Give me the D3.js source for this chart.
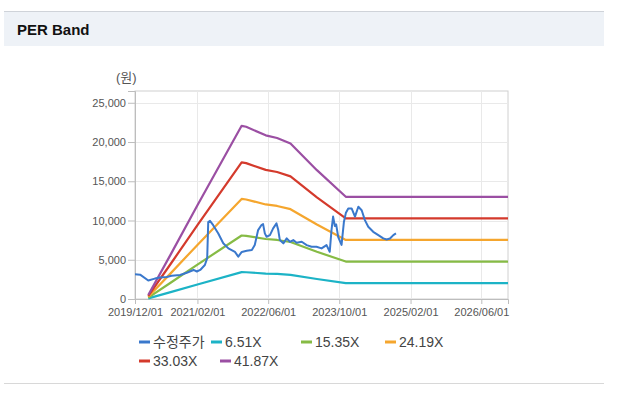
<!DOCTYPE html>
<html><head><meta charset="utf-8">
<script src="https://cdn.jsdelivr.net/npm/d3@7/dist/d3.min.js"></script>
<style>
html,body{margin:0;padding:0;background:#fff;}
svg{display:block;}
text{font-family:"Liberation Sans",Arial,"Noto Sans CJK KR",sans-serif;}
</style></head>
<body>
<svg id="chart" width="621" height="393"></svg>
<script>
// ---- data ----
const title = "PER Band";
const unitLabel = "(원)";
const priceName = "수정주가";
const priceDates = ["2019-12-01","2020-01-05","2020-03-01","2020-04-15","2020-05-20","2020-07-05","2020-08-08","2020-10-05","2020-11-20","2021-01-05","2021-01-28","2021-02-20","2021-03-24","2021-04-09","2021-04-16","2021-04-28","2021-05-20","2021-06-24","2021-07-28","2021-09-01","2021-10-16","2021-11-08","2021-12-02","2022-01-05","2022-02-09","2022-03-01","2022-03-24","2022-04-16","2022-04-27","2022-05-09","2022-05-21","2022-06-13","2022-07-05","2022-07-28","2022-08-09","2022-08-20","2022-09-13","2022-10-06","2022-10-28","2022-11-20","2022-12-13","2023-01-17","2023-02-20","2023-03-25","2023-04-28","2023-06-02","2023-07-06","2023-07-28","2023-08-09","2023-08-20","2023-09-01","2023-09-10","2023-09-24","2023-10-17","2023-11-02","2023-11-16","2023-12-02","2023-12-25","2024-01-17","2024-02-09","2024-03-03","2024-03-25","2024-04-17","2024-05-21","2024-06-25","2024-07-29","2024-08-21","2024-09-13","2024-10-06","2024-10-24"];
const priceValues = [3150,3100,2350,2600,2750,2800,2950,3050,3350,3700,3500,3700,4330,5200,9800,9950,9400,8350,7100,6450,6000,5400,6000,6150,6250,6870,8780,9420,9540,8360,7930,8140,9000,9630,8780,7510,7090,7720,7290,7510,7160,7290,6870,6650,6650,6450,6870,6020,8780,10500,9300,9500,7900,6900,9800,11000,11540,11540,10500,11750,11300,10050,9200,8560,8140,7720,7590,7700,8140,8350];
const epsDates = ["2020-03-01","2020-08-01","2021-02-01","2021-12-01","2022-01-01","2022-05-15","2022-08-01","2022-11-01","2023-05-01","2023-11-15","2026-12-01"];
const epsValues = [12,135,285,527,524,498,490,473,392,311,311];
const perMultiples = [6.51,15.35,24.19,33.03,41.87];
const perLabels = ["6.51X","15.35X","24.19X","33.03X","41.87X"];
const yTicks = [0,5000,10000,15000,20000,25000];
const xTickDates = ["2019-12-01","2021-02-01","2022-06-01","2023-10-01","2025-02-01","2026-06-01"];
const xDomain = ["2019-12-01","2026-12-01"];

// ---- styles ----
const priceColor = "#3a78cc";
const bandColors = ["#1cb3c6","#86bb45","#f5a62e","#d43a2c","#9b4fa3"];

const parse = d3.timeParse("%Y-%m-%d");
const fmtDate = d3.timeFormat("%Y/%m/%d");
const svg = d3.select("#chart");

// header
svg.append("rect").attr("x",4).attr("y",11).attr("width",600).attr("height",35).attr("fill","#eef2f7");
svg.append("line").attr("x1",4).attr("x2",604).attr("y1",11.5).attr("y2",11.5).attr("stroke","#cfd3d9");
svg.append("text").attr("x",17).attr("y",35).attr("font-size",15).attr("font-weight","bold")
  .attr("fill","#111").text(title);
svg.append("line").attr("x1",4).attr("x2",604).attr("y1",383.5).attr("y2",383.5).attr("stroke","#d8d8d8");

// scales
const pLeft=135, pRight=508, pTop=91, pBottom=299;
const x = d3.scaleTime().domain(xDomain.map(parse)).range([pLeft,pRight]);
const y = d3.scaleLinear().domain([0,26500]).range([pBottom,pTop]);

// plot frame & grid
const g = svg.append("g");
g.append("rect").attr("x",pLeft).attr("y",pTop).attr("width",pRight-pLeft).attr("height",pBottom-pTop)
  .attr("fill","#fff").attr("stroke","#d0d0d0");
g.selectAll(".hg").data(yTicks.slice(1)).enter().append("line")
  .attr("x1",pLeft).attr("x2",pRight).attr("y1",d=>Math.round(y(d))+0.5).attr("y2",d=>Math.round(y(d))+0.5)
  .attr("stroke","#e9e9e9");
g.selectAll(".vg").data(xTickDates.slice(1)).enter().append("line")
  .attr("x1",d=>Math.round(x(parse(d)))+0.5).attr("x2",d=>Math.round(x(parse(d)))+0.5).attr("y1",pTop).attr("y2",pBottom)
  .attr("stroke","#e9e9e9");

// axes
const yAxis = d3.axisLeft(y).tickValues(yTicks).tickSize(7).tickPadding(2).tickFormat(d3.format(","));
const ya = svg.append("g").attr("transform",`translate(${pLeft},0)`).call(yAxis);
const xAxis = d3.axisBottom(x).tickValues(xTickDates.map(parse)).tickSize(5).tickPadding(4).tickFormat(fmtDate);
const xa = svg.append("g").attr("transform",`translate(0,${pBottom})`).call(xAxis);
[ya,xa].forEach(a=>{
  a.select(".domain").attr("stroke","#bdbdbd");
  a.selectAll(".tick line").attr("stroke","#bdbdbd");
  a.selectAll(".tick text").attr("fill","#555").attr("font-size",11)
    .attr("font-family","'Liberation Sans',Arial,sans-serif");
});
svg.append("text").attr("x",116).attr("y",82).attr("font-size",13).attr("fill","#555").text(unitLabel);

// bands
const line = d3.line().x(d=>x(d.date)).y(d=>y(d.value));
perMultiples.forEach((m,i)=>{
  const pts = epsDates.map((d,j)=>({date:parse(d), value:epsValues[j]*m}));
  svg.append("path").datum(pts).attr("d",line).attr("fill","none")
    .attr("stroke",bandColors[i]).attr("stroke-width",2.2).attr("stroke-linejoin","round");
});
// price
const pp = priceDates.map((d,j)=>({date:parse(d), value:priceValues[j]}));
svg.append("path").datum(pp).attr("d",line).attr("fill","none")
  .attr("stroke",priceColor).attr("stroke-width",2).attr("stroke-linejoin","round");

// legend
const legendItems = [{name:priceName,color:priceColor}].concat(perLabels.map((l,i)=>({name:l,color:bandColors[i]})));
const legendPos = [[139,342],[211,342],[301,342],[385,342],[139,361],[220,361]];
legendItems.forEach((it,i)=>{
  const [lx,ly] = legendPos[i];
  svg.append("line").attr("x1",lx).attr("x2",lx+11).attr("y1",ly).attr("y2",ly)
    .attr("stroke",it.color).attr("stroke-width",3);
  svg.append("text").attr("x",lx+14).attr("y",ly+5).attr("font-size",14).attr("fill","#444").text(it.name);
});
</script>
</body></html>
